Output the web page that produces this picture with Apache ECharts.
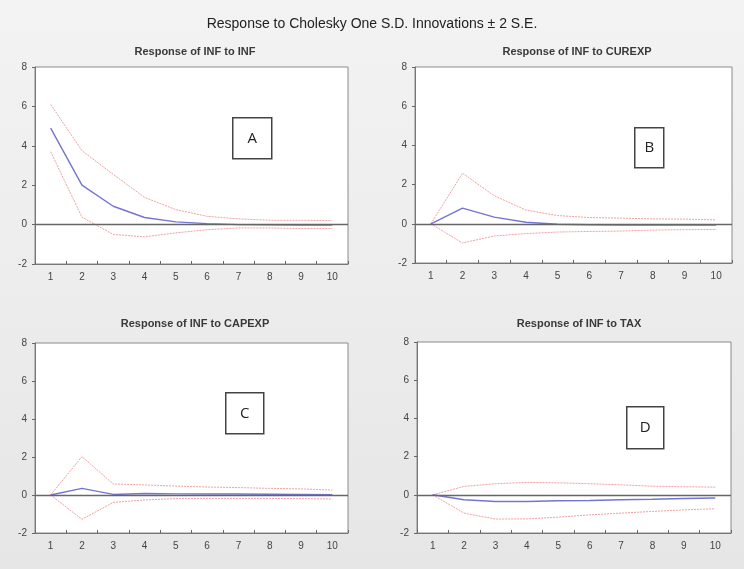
<!DOCTYPE html>
<html>
<head>
<meta charset="utf-8">
<script src="https://cdn.jsdelivr.net/npm/echarts@6/dist/echarts.min.js"></script>
<style>
html,body{margin:0;padding:0;background:#eeeeee;}
#main{width:744px;height:569px;}
</style>
</head>
<body>
<div id="main"></div>
<script>
var periods = ['1','2','3','4','5','6','7','8','9','10'];
var yTicks = [-2, 0, 2, 4, 6, 8];

var panelTitles = ['Response of INF to INF', 'Response of INF to CUREXP', 'Response of INF to CAPEXP', 'Response of INF to TAX'];
var panelLetters = ['A', 'B', 'C', 'D'];

// Panel A: INF -> INF
var respA  = [4.9, 2.0, 0.93, 0.36, 0.14, 0.05, 0.0, -0.01, -0.02, -0.02];
var upperA = [6.1, 3.75, 2.55, 1.38, 0.76, 0.42, 0.29, 0.22, 0.22, 0.2];
var lowerA = [3.7, 0.38, -0.5, -0.62, -0.42, -0.26, -0.17, -0.17, -0.2, -0.2];

// Panel B: INF -> CUREXP
var respB  = [0.0, 0.8, 0.34, 0.08, -0.02, -0.05, -0.06, -0.06, -0.06, -0.06];
var upperB = [0.0, 2.58, 1.43, 0.7, 0.42, 0.32, 0.29, 0.25, 0.24, 0.2];
var lowerB = [0.0, -0.98, -0.62, -0.5, -0.42, -0.39, -0.37, -0.32, -0.3, -0.29];

// Panel C: INF -> CAPEXP
var respC  = [0.0, 0.35, 0.03, 0.08, 0.06, 0.05, 0.05, 0.04, 0.03, 0.02];
var upperC = [0.0, 2.02, 0.58, 0.53, 0.47, 0.42, 0.39, 0.35, 0.32, 0.26];
var lowerC = [0.0, -1.28, -0.39, -0.26, -0.19, -0.18, -0.18, -0.18, -0.19, -0.21];

// Panel D: INF -> TAX
var respD  = [0.0, -0.26, -0.35, -0.35, -0.31, -0.3, -0.26, -0.23, -0.19, -0.17];
var upperD = [0.0, 0.44, 0.58, 0.65, 0.63, 0.58, 0.52, 0.45, 0.42, 0.4];
var lowerD = [0.0, -0.96, -1.27, -1.26, -1.17, -1.05, -0.96, -0.87, -0.79, -0.73];

var responses = [respA, respB, respC, respD];
var uppers = [upperA, upperB, upperC, upperD];
var lowers = [lowerA, lowerB, lowerC, lowerD];

var grids = [
  {left: 35, top: 67, width: 313, height: 197},
  {left: 415, top: 67, width: 317, height: 196},
  {left: 35, top: 343, width: 313, height: 190},
  {left: 417, top: 342, width: 314, height: 191}
];
var titlePos = [[190, 41], [572, 41], [190, 313], [574, 313]];
var boxes = [
  {x: 232, y: 117, w: 39, h: 41},
  {x: 634, y: 127, w: 29, h: 40},
  {x: 225, y: 392, w: 38, h: 41},
  {x: 626, y: 406, w: 37, h: 42}
];

var FONT = '"Liberation Sans", Arial, sans-serif';

var option = {
  backgroundColor: {
    type: 'linear', x: 0, y: 0, x2: 0, y2: 1,
    colorStops: [{offset: 0, color: '#f3f3f3'}, {offset: 1, color: '#e6e6e6'}]
  },
  animation: false,
  title: [],
  grid: [],
  xAxis: [],
  yAxis: [],
  series: [],
  graphic: []
};

option.title.push({
  text: 'Response to Cholesky One S.D. Innovations \u00b1 2 S.E.',
  left: 'center', top: 12,
  textStyle: {fontFamily: FONT, fontSize: 14, fontWeight: 'normal', color: '#222'}
});

for (var i = 0; i < 4; i++) {
  option.grid.push(Object.assign({show: true, backgroundColor: '#ffffff', borderColor: '#8a8a8a', borderWidth: 1}, grids[i]));
  option.title.push({
    text: panelTitles[i],
    left: titlePos[i][0], top: titlePos[i][1], textAlign: 'center',
    textStyle: {fontFamily: FONT, fontSize: 11, fontWeight: 'bold', color: '#3a3a3a'}
  });
  option.xAxis.push({
    type: 'category', gridIndex: i, data: periods, boundaryGap: true,
    axisLine: {onZero: false, lineStyle: {color: '#777'}},
    axisTick: {show: true, inside: true, length: 3, lineStyle: {color: '#666'}},
    axisLabel: {fontFamily: FONT, fontSize: 10, color: '#444', margin: 8},
    splitLine: {show: false}
  });
  option.yAxis.push({
    type: 'value', gridIndex: i, min: -2, max: 8, interval: 2,
    axisLine: {show: true, lineStyle: {color: '#777'}},
    axisTick: {show: true, length: 3, lineStyle: {color: '#666'}},
    axisLabel: {fontFamily: FONT, fontSize: 10, color: '#444', margin: 8},
    splitLine: {show: false}
  });
  option.series.push({
    type: 'line', xAxisIndex: i, yAxisIndex: i, data: uppers[i],
    symbol: 'none', silent: true,
    lineStyle: {color: '#f2a0a0', width: 1, type: [2, 1]}
  });
  option.series.push({
    type: 'line', xAxisIndex: i, yAxisIndex: i, data: lowers[i],
    symbol: 'none', silent: true,
    lineStyle: {color: '#f2a0a0', width: 1, type: [2, 1]}
  });
  option.series.push({
    type: 'line', xAxisIndex: i, yAxisIndex: i, data: responses[i],
    symbol: 'none', silent: true, z: 3,
    lineStyle: {color: '#7474d6', width: 1.4},
    markLine: {
      silent: true, symbol: 'none', label: {show: false},
      lineStyle: {color: '#666', width: 1.3, type: 'solid'},
      data: [{yAxis: 0}]
    }
  });
  var b = boxes[i];
  option.graphic.push({
    type: 'group', left: b.x, top: b.y,
    children: [
      {type: 'rect', shape: {x: 0, y: 0, width: b.w, height: b.h},
       style: {fill: '#fff', stroke: '#444', lineWidth: 1.5}},
      {type: 'text', x: b.w / 2, y: b.h / 2,
       style: {text: panelLetters[i], fontFamily: '"Open Sans", "DejaVu Sans", sans-serif', fontSize: 15, fill: '#222', align: 'center', verticalAlign: 'middle'}}
    ]
  });
}

var chart = echarts.init(document.getElementById('main'), null, {renderer: 'canvas'});
chart.setOption(option);
</script>
</body>
</html>
